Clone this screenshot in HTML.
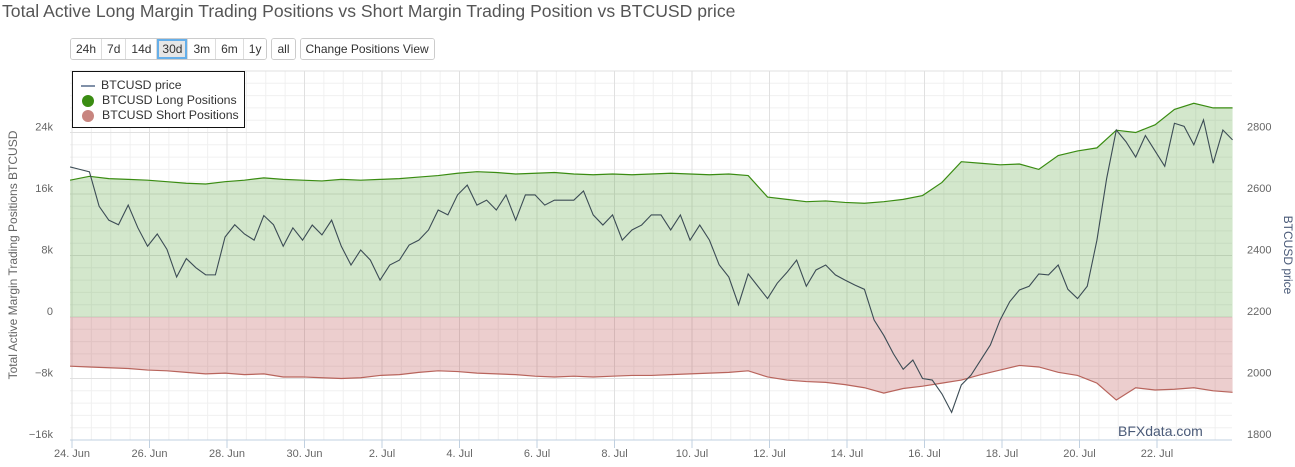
<!DOCTYPE html>
<html><head><meta charset="utf-8">
<style>
body{margin:0;background:#fff;font-family:"Liberation Sans",sans-serif;}
#wrap{position:relative;width:1295px;height:467px;overflow:hidden;}
.btns{position:absolute;top:38px;left:70px;display:flex;}
.grp{display:flex;border:1px solid #ccc;border-radius:3px;margin-right:4px;overflow:hidden;}
.grp span{font-size:12px;color:#333;padding:3px 5px 3px 5px;border-right:1px solid #ddd;line-height:14px;background:#fff;}
.grp span:last-child{border-right:none}
.grp span.act{background:#e6e6e6;box-shadow:inset 0 0 0 2px #66afe9;}
</style></head><body>
<div id="wrap">
<div style="position:absolute;left:2px;top:1px;font-size:17.6px;color:#555">Total Active Long Margin Trading Positions vs Short Margin Trading Position vs BTCUSD price</div>
<div class="btns">
 <div class="grp">
  <span>24h</span>
  <span>7d</span>
  <span>14d</span>
  <span class="act">30d</span>
  <span>3m</span>
  <span>6m</span>
  <span>1y</span>
 </div>
 <div class="grp"><span>all</span></div>
 <div class="grp"><span>Change Positions View</span></div>
</div>
<svg id="svg" width="1295" height="467" style="position:absolute;left:0;top:0"></svg>
<div style="position:absolute;left:72px;top:71px;width:171px;height:55px;border:1.5px solid #111;background:#fff;font-size:12.3px;color:#333">
 <div style="position:absolute;left:8px;top:6px"><span style="display:inline-block;width:14px;height:2px;background:#8090a8;vertical-align:middle;margin-right:6px"></span>BTCUSD price</div>
 <div style="position:absolute;left:8px;top:21px"><span style="display:inline-block;width:12px;height:12px;border-radius:6px;background:#3a8c12;vertical-align:middle;margin-right:8px;margin-left:1px"></span>BTCUSD Long Positions</div>
 <div style="position:absolute;left:8px;top:36px"><span style="display:inline-block;width:12px;height:12px;border-radius:6px;background:#c8857f;vertical-align:middle;margin-right:8px;margin-left:1px"></span>BTCUSD Short Positions</div>
</div>
</div>
<script>
const xTickLabels=["24. Jun","26. Jun","28. Jun","30. Jun","2. Jul","4. Jul","6. Jul","8. Jul","10. Jul","12. Jul","14. Jul","16. Jul","18. Jul","20. Jul","22. Jul"];
const leftTicks=[-16,-8,0,8,16,24];
const rightTicks=[1800,2000,2200,2400,2600,2800];
const priceStart=-0.05, priceStep=0.25;
const price=[2688,2680,2672,2560,2515,2500,2564,2490,2430,2470,2420,2330,2390,2360,2337,2337,2460,2500,2470,2450,2530,2500,2430,2490,2450,2499,2467,2515,2430,2369,2418,2385,2320,2369,2385,2434,2450,2483,2548,2532,2597,2629,2564,2580,2548,2597,2515,2597,2597,2564,2580,2580,2580,2610,2532,2499,2532,2450,2483,2499,2532,2532,2483,2532,2450,2499,2450,2370,2330,2240,2340,2300,2260,2310,2345,2385,2300,2353,2369,2337,2320,2304,2290,2190,2140,2080,2030,2060,2000,1995,1950,1890,1979,2011,2060,2109,2190,2250,2288,2300,2340,2337,2369,2290,2260,2300,2450,2650,2808,2770,2720,2790,2740,2690,2830,2820,2760,2841,2700,2808,2776];
const posStart=-0.05, posStep=0.5;
const longPos=[17.8,18.3,18.0,17.9,17.8,17.6,17.4,17.3,17.6,17.8,18.1,17.9,17.8,17.7,17.9,17.8,17.9,18.0,18.2,18.4,18.7,18.9,18.8,18.6,18.7,18.8,18.6,18.5,18.6,18.5,18.6,18.7,18.6,18.5,18.6,18.4,15.6,15.3,15.0,15.1,14.9,14.8,15.0,15.3,15.8,17.5,20.2,20.0,19.8,19.9,19.2,21.0,21.6,22.0,24.3,24.0,25.0,27.0,27.8,27.2,27.2];
const shortPos=[-6.4,-6.5,-6.6,-6.7,-6.9,-7.0,-7.2,-7.4,-7.3,-7.5,-7.4,-7.8,-7.8,-7.9,-8.0,-7.9,-7.6,-7.5,-7.2,-7.0,-7.1,-7.3,-7.4,-7.5,-7.7,-7.8,-7.7,-7.8,-7.7,-7.6,-7.6,-7.5,-7.4,-7.3,-7.2,-7.0,-7.8,-8.2,-8.4,-8.5,-8.8,-9.2,-9.9,-9.3,-9.0,-8.6,-8.2,-7.5,-6.9,-6.3,-6.5,-7.2,-7.6,-8.6,-10.8,-9.2,-9.5,-9.4,-9.2,-9.6,-9.8];

const L=70,R=1232,T=71,B=440;
const x=d=>72+d*38.75;
const yL=v=>317-v*61.5/8;
const yR=p=>317-(p-2200)*61.5/200;
const svg=document.getElementById('svg');
const NS='http://www.w3.org/2000/svg';
function mk(t,a){const e=document.createElementNS(NS,t);for(const k in a)e.setAttribute(k,a[k]);svg.appendChild(e);return e;}
for(let v=-16;v<=32;v+=1.6){const g=mk('line',{x1:L,x2:R,y1:yL(v),y2:yL(v),stroke:'#f0f0f0','stroke-width':1});
}
for(let d=-0.5;d<=29.5;d+=0.5){if(x(d)<L||x(d)>R)continue;const g=mk('line',{x1:x(d),x2:x(d),y1:T,y2:B,stroke:'#f0f0f0'});
}
for(let v=-16;v<=32;v+=8){const g=mk('line',{x1:L,x2:R,y1:yL(v),y2:yL(v),stroke:'#e0e0e0'});
}
xTickLabels.forEach((s,i)=>{const g=mk('line',{x1:x(i*2),x2:x(i*2),y1:T,y2:B,stroke:'#e0e0e0'});
});
function posPts(arr){return arr.map((v,i)=>[x(posStart+i*posStep),yL(v)]);}
const lp=posPts(longPos), sp=posPts(shortPos);
const z=yL(0);
function area(p,fill,stroke,name){
 const d='M'+p[0][0]+','+z+' '+p.map(q=>'L'+q[0]+','+q[1]).join(' ')+' L'+p[p.length-1][0]+','+z+'Z';
 const a=mk('path',{d:d,fill:fill});
 
 const l=mk('path',{d:'M'+p.map(q=>q[0]+','+q[1]).join(' L'),fill:'none',stroke:stroke,'stroke-width':1.2});
 
}
area(lp,'rgba(80,160,50,0.25)','#3a8c12','long-positions');
area(sp,'rgba(180,60,60,0.25)','#b8645c','short-positions');
const pp=price.map((v,i)=>[x(priceStart+i*priceStep),yR(v)]);
const pl=mk('path',{d:'M'+pp.map(q=>q[0]+','+q[1]).join(' L'),fill:'none',stroke:'#3c4c55','stroke-width':1.1});

const ax=mk('line',{x1:L,x2:R,y1:B,y2:B,stroke:'#c0d0e0'});

xTickLabels.forEach((s,i)=>{
 const tk=mk('line',{x1:x(i*2),x2:x(i*2),y1:B,y2:B+8,stroke:'#c0d0e0'});
 
 const t=mk('text',{x:x(i*2),y:B+17,'text-anchor':'middle','font-size':11,fill:'#666'});t.textContent=s;
 });
leftTicks.forEach(v=>{const t=mk('text',{x:53,y:yL(v)-2,'text-anchor':'end','font-size':11,fill:'#666'});
 t.textContent=v===0?'0':(v<0?'\u2212'+(-v)+'k':v+'k');
 });
rightTicks.forEach(v=>{const t=mk('text',{x:1247,y:yR(v)-2,'font-size':11,fill:'#666'});t.textContent=v;
 });
const yt=mk('text',{x:0,y:0,'font-size':12,fill:'#666','text-anchor':'middle',transform:'translate(17,255) rotate(-90)'});
yt.textContent='Total Active Margin Trading Positions BTCUSD';

const rt=mk('text',{x:0,y:0,'font-size':12,fill:'#4a5a78','text-anchor':'middle',transform:'translate(1284,255) rotate(90)'});
rt.textContent='BTCUSD price';

const wm=mk('text',{x:1118,y:436,'font-size':14,fill:'#4a5a78'});wm.textContent='BFXdata.com';

</script>
</body></html>
